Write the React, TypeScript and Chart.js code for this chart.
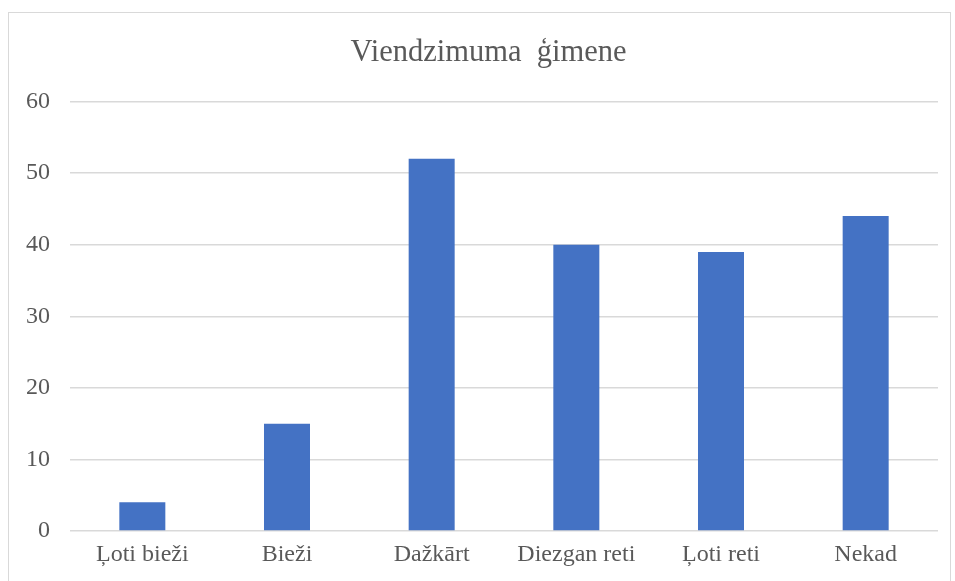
import React, { useEffect, useRef } from "react";
import { Chart, registerables } from "chart.js";

Chart.register(...registerables);

const categories = ["Ļoti bieži", "Bieži", "Dažkārt", "Diezgan reti", "Ļoti reti", "Nekad"];
const values = [4, 15, 52, 40, 39, 44];
const titleText = "Viendzimuma  ģimene";
const yMin = 0;
const yMax = 60;
const yStep = 10;

const shiftTitle = {
  id: "shiftTitle",
  afterLayout(chart: any) {
    const t = chart.titleBlock;
    if (t) {
      t.left += 15;
      t.right += 15;
    }
  },
};

export default function App() {
  const ref = useRef<HTMLCanvasElement | null>(null);

  useEffect(() => {
    if (!ref.current) return;
    const font = "'Liberation Serif', 'Times New Roman', serif";
    const chart = new Chart(ref.current, {
      type: "bar",
      data: {
        labels: categories,
        datasets: [
          {
            data: values,
            backgroundColor: "#4472C4",
            borderWidth: 0,
            categoryPercentage: 1,
            barPercentage: 0.318,
          },
        ],
      },
      options: {
        responsive: false,
        animation: false,
        maintainAspectRatio: false,
        layout: { padding: { left: 0, right: 12, top: 0, bottom: 0 } },
        plugins: {
          legend: { display: false },
          tooltip: { enabled: false },
          title: {
            display: true,
            text: titleText,
            color: "#595959",
            font: { family: font, size: 30.5, weight: "normal" },
            padding: { top: 22, bottom: 30 },
          },
        },
        scales: {
          x: {
            grid: { display: false },
            border: { display: false },
            ticks: {
              color: "#595959",
              font: { family: font, size: 24 },
              padding: 1,
              maxRotation: 0,
              autoSkip: false,
            },
            afterFit: (s: any) => {
              s.height = 50;
            },
          },
          y: {
            min: yMin,
            max: yMax,
            grid: { color: "#d9d9d9", lineWidth: 1.5, drawTicks: false },
            border: { display: false },
            ticks: {
              stepSize: yStep,
              color: "#595959",
              font: { family: font, size: 24 },
              padding: 20,
            },
            afterFit: (s: any) => {
              s.width = 61;
            },
          },
        },
      },
      plugins: [shiftTitle],
    });
    return () => chart.destroy();
  }, []);

  return (
    <div
      style={{
        position: "fixed",
        left: 8,
        top: 12,
        width: 941,
        height: 600,
        border: "1.5px solid #d9d9d9",
        background: "#fff",
      }}
    >
      <canvas ref={ref} width={941} height={568} style={{ display: "block" }} />
    </div>
  );
}
